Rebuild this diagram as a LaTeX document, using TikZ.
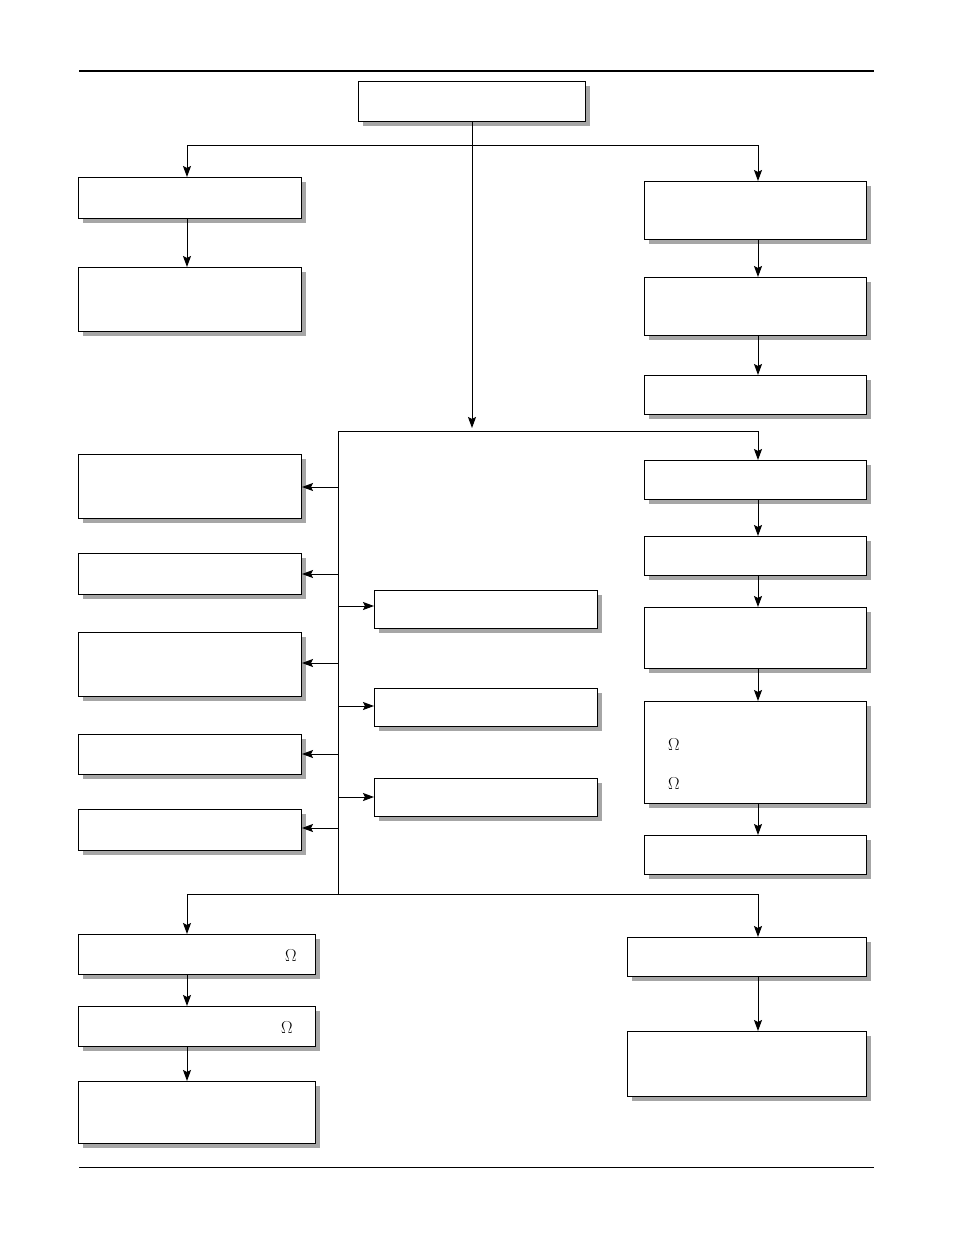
\documentclass[tikz,border=0pt]{standalone}
\usetikzlibrary{arrows.meta,shadows}
\begin{document}
\begin{tikzpicture}[x=1pt,y=-1pt,
  box/.style={draw=black,fill=white,line width=1pt,inner sep=0pt,
    drop shadow={shadow xshift=4pt,shadow yshift=-4pt,fill=black!35,opacity=1}},
  arr/.style={line width=1pt,-{Stealth[length=11pt,width=8pt,inset=2pt]}},
  ln/.style={line width=1pt},
  om/.style={font=\LARGE}]
\useasboundingbox (0,0) rectangle (954,1243);
\newcommand\bx[5]{\node[box,anchor=north west,minimum width={(#4-#2)*1pt},minimum height={(#5-#3)*1pt}] (#1) at (#2,#3) {};}
\draw[line width=2.5pt] (79,71) -- (874,71);
\draw[line width=0.6pt] (79,1167) -- (874,1167);
\bx{top}{358}{81}{585}{121}
\bx{L1}{78}{177}{301}{218}
\bx{L2}{78}{267}{301}{331}
\bx{R1}{644}{181}{866}{239}
\bx{R2}{644}{277}{866}{335}
\bx{R3}{644}{375}{866}{414}
\bx{R4}{644}{460}{866}{499}
\bx{R5}{644}{536}{866}{575}
\bx{R6}{644}{607}{866}{668}
\bx{R7}{644}{701}{866}{803}
\bx{R8}{644}{835}{866}{874}
\bx{A1}{78}{454}{301}{518}
\bx{A2}{78}{553}{301}{594}
\bx{A3}{78}{632}{301}{696}
\bx{A4}{78}{734}{301}{774}
\bx{A5}{78}{809}{301}{850}
\bx{M1}{374}{590}{597}{628}
\bx{M2}{374}{688}{597}{726}
\bx{M3}{374}{778}{597}{816}
\bx{B1}{78}{934}{315}{974}
\bx{B2}{78}{1006}{315}{1046}
\bx{B3}{78}{1081}{315}{1143}
\bx{C1}{627}{937}{866}{976}
\bx{C2}{627}{1031}{866}{1096}
\node[om] (o1) at (674,745) {$\Omega$};
\node[om] (o2) at (674,784) {$\Omega$};
\node[om] (o3) at (291,956) {$\Omega$};
\node[om] (o4) at (287,1028) {$\Omega$};
\coordinate (bus) at (472,428);
\draw[arr] (top.south) -- (bus);
\draw[ln] (187,145) -- (758,145);
\draw[arr] (187,145) -- (187,177);
\draw[arr] (758,145) -- (758,181);
\draw[arr] (187,218) -- (187,267);
\draw[arr] (758,239) -- (758,277);
\draw[arr] (758,335) -- (758,375);
\draw[ln] (338,431) -- (758,431);
\draw[arr] (758,431) -- (R4.north -| 758,0);
\draw[ln] (338,431) -- (338,894);
\foreach \y/\n in {487/A1,574/A2,663/A3,754/A4,828/A5} \draw[arr] (338,\y) -- (\n.east |- 0,\y);
\foreach \y/\n in {606/M1,706/M2,797/M3} \draw[arr] (338,\y) -- (\n.west |- 0,\y);
\draw[arr] (758,499) -- (758,536);
\draw[arr] (758,575) -- (758,607);
\draw[arr] (758,668) -- (758,701);
\draw[arr] (758,803) -- (758,835);
\draw[ln] (187,894) -- (758,894);
\draw[arr] (187,894) -- (187,934);
\draw[arr] (758,894) -- (758,937);
\draw[arr] (187,974) -- (187,1006);
\draw[arr] (187,1046) -- (187,1081);
\draw[arr] (758,976) -- (758,1031);
\end{tikzpicture}
\end{document}
